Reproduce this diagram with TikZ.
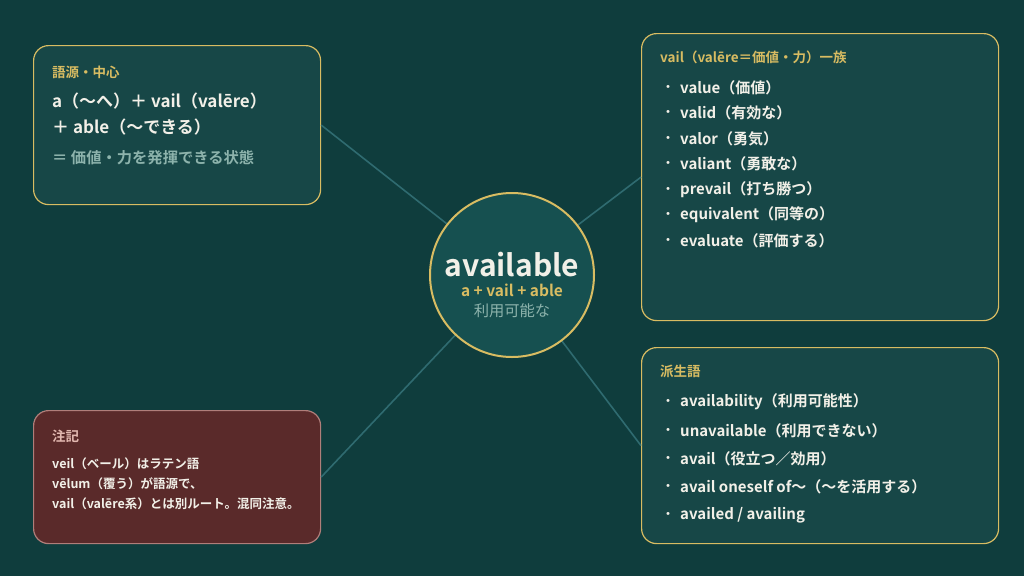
\documentclass[tikz,border=0pt]{standalone}
\usepackage{fontspec}
\setmainfont{Noto Sans CJK JP}[BoldFont={Noto Sans CJK JP Bold}]
\definecolor{bg}{HTML}{0F3D3D}
\definecolor{boxfill}{HTML}{174747}
\definecolor{circfill}{HTML}{165050}
\definecolor{gold}{HTML}{D8BC62}
\definecolor{txt}{HTML}{F2F0E8}
\definecolor{mute}{HTML}{8DB3AC}
\definecolor{link}{HTML}{2F6B70}
\definecolor{notefill}{HTML}{5A2A2A}
\definecolor{noteline}{HTML}{B07E7A}
\definecolor{notehead}{HTML}{E2B8B0}
\tikzset{
  panel/.style={draw=gold, line width=1.2pt, fill=boxfill, rounded corners=15pt},
  notepanel/.style={draw=noteline, line width=1.2pt, fill=notefill, rounded corners=15pt},
  head/.style={anchor=west, inner sep=0pt, font=\bfseries\fontsize{13.5}{15}\selectfont, text=gold},
  item/.style={anchor=west, inner sep=0pt, font=\bfseries\fontsize{15}{17}\selectfont, text=txt},
  big/.style={anchor=west, inner sep=0pt, font=\bfseries\fontsize{17}{19}\selectfont, text=txt},
  note/.style={anchor=west, inner sep=0pt, font=\bfseries\fontsize{12.5}{14}\selectfont, text=txt},
  dotb/.style={anchor=center, inner sep=0pt, font=\bfseries\fontsize{12}{14}\selectfont, text=txt},
  connector/.style={draw=link, line width=1.6pt}
}
\begin{document}
\begin{tikzpicture}[x=1pt,y=-1pt]
\fill[bg] (0,0) rectangle (1024,576);
\useasboundingbox (0,0) rectangle (1024,576);
% panels as nodes
\node[panel, minimum width=287pt, minimum height=159pt, anchor=north west, inner sep=0pt] (tl) at (33,45) {};
\node[panel, minimum width=357pt, minimum height=287pt, anchor=north west, inner sep=0pt] (tr) at (641,33) {};
\node[panel, minimum width=357pt, minimum height=196pt, anchor=north west, inner sep=0pt] (br) at (641,347) {};
\node[notepanel, minimum width=287pt, minimum height=133pt, anchor=north west, inner sep=0pt] (bl) at (33,410) {};
\coordinate (c) at (512,275);
% connectors
\draw[connector] (tl.east) -- (c);
\draw[connector] (tr.west) -- (c);
\draw[connector] (br.west) -- (c);
\draw[connector] (bl.east) -- (c);
% center circle
\node[circle, draw=gold, line width=2pt, fill=circfill, minimum size=164pt, inner sep=0pt] (hub) at (c) {};
\node[inner sep=0pt, font=\bfseries\fontsize{30}{34}\selectfont, text=txt] (w) at (512,265) {available};
\node[inner sep=0pt, font=\bfseries\fontsize{15.5}{17}\selectfont, text=gold] (w2) at (512,290) {a + vail + able};
\node[inner sep=0pt, font=\fontsize{15.3}{17}\selectfont, text=mute] (w3) at (512,311) {利用可能な};
% top-left
\node[head] (tlh) at (52,72) {語源・中心};
\node[big] (tl1) at (52,101) {a（〜へ）＋ vail（valēre）};
\node[big] (tl2) at (52,127) {＋ able（〜できる）};
\node[anchor=west, inner sep=0pt, font=\bfseries\fontsize{15.3}{17}\selectfont, text=mute] (tl3) at (52,158) {＝ 価値・力を発揮できる状態};
% top-right
\node[head] (trh) at (660,57) {vail（valēre＝価値・力）一族};
\foreach \y/\t [count=\i] in {88/{value（価値）},113/{valid（有効な）},139/{valor（勇気）},164/{valiant（勇敢な）},190/{prevail（打ち勝つ）},215/{equivalent（同等の）},241/{evaluate（評価する）}}{
  \node[dotb] (trd\i) at (668,\y) {・};
  \node[item] (tri\i) at (680,\y) {\t};
}
% bottom-right
\node[head] (brh) at (660,371) {派生語};
\foreach \y/\t [count=\i] in {402/{availability（利用可能性）},431/{unavailable（利用できない）},459/{avail（役立つ／効用）},487/{avail oneself of〜（〜を活用する）},515/{availed / availing}}{
  \node[dotb] (brd\i) at (668,\y) {・};
  \node[item] (bri\i) at (680,\y) {\t};
}
% bottom-left note
\node[anchor=west, inner sep=0pt, font=\bfseries\fontsize{13.5}{15}\selectfont, text=notehead] (blh) at (52,436) {注記};
\node[note] (bl1) at (52,464) {veil（ベール）はラテン語};
\node[note] (bl2) at (52,484) {vēlum（覆う）が語源で、};
\node[note] (bl3) at (52,504) {vail（valēre系）とは別ルート。混同注意。};
\end{tikzpicture}
\end{document}
